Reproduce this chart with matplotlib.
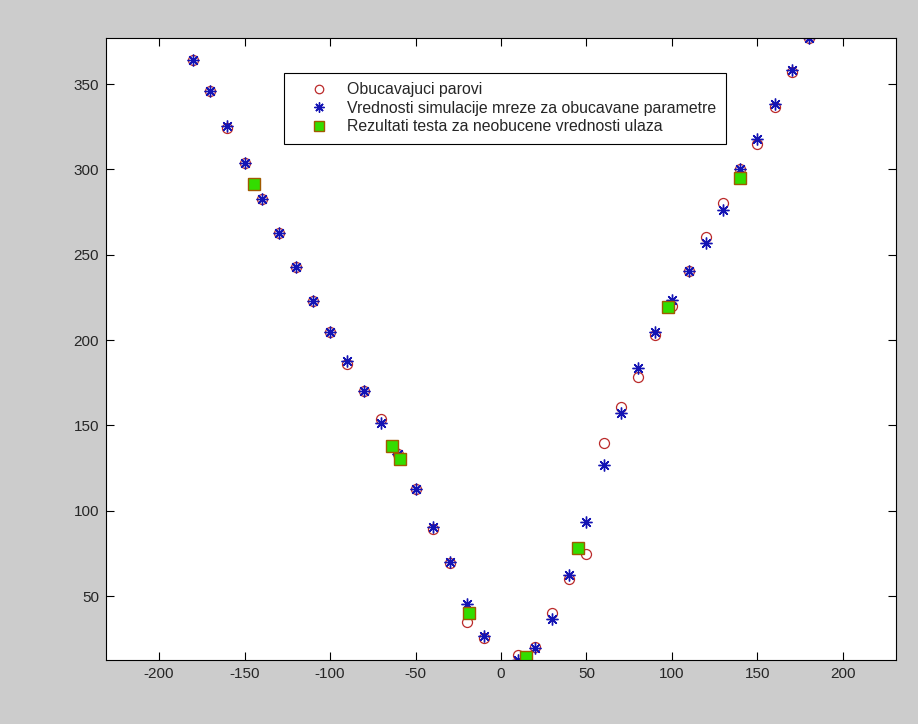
import matplotlib
matplotlib.use('Agg')
import matplotlib.pyplot as plt

plt.rcParams['font.family'] = ['Liberation Sans', 'DejaVu Sans']
plt.rcParams['axes.unicode_minus'] = False

# Training pairs (input, target)
train_x = [-180, -170, -160, -150, -140, -130, -120, -110, -100, -90, -80, -70, -60, -50,
           -40, -30, -20, -10, 10, 20, 30, 40, 50, 60, 70, 80, 90, 100, 110, 120, 130,
           140, 150, 160, 170, 180]
train_y = [364, 346, 324, 304, 282.5, 262.6, 242.7, 223.1, 204.9, 185.8, 170.3, 153.6, 133.5, 112.5,
           89.1, 69.5, 35, 25.2, 15.4, 20.3, 40.2, 59.8, 74.6, 139.5, 160.6, 178.2, 203, 220, 240.7,
           260.3, 280.2, 300.1, 315, 336.8, 356.8, 376.9]

# Network output on the training inputs
sim_y = [364, 346, 325.5, 304, 282.5, 262.6, 242.7, 223.1, 205, 187.7, 170.3, 151.6, 133, 112.5,
         90.6, 70.1, 45.3, 26.6, 12.5, 19.3, 36.3, 62.3, 93.6, 126.8, 157, 183.8, 205, 223.5, 240.7,
         257, 276.3, 300, 317.7, 338.4, 358.3, 376.9]

# Network output on unseen inputs
test_x = [-144.7, -63.8, -58.8, -18.6, 14.8, 44.8, 97.6, 139.6]
test_y = [291.3, 138.1, 130.1, 39.8, 14, 78, 219.6, 294.8]

fig = plt.figure(figsize=(9.18, 7.24), dpi=100, facecolor='#cccccc')
ax = fig.add_axes([106 / 918, 64 / 724, 790 / 918, 622 / 724])

ax.plot(train_x, train_y, 'o', markersize=7.2, markerfacecolor='none',
        markeredgecolor='#bb2a2a', markeredgewidth=0.9, label='Obucavajuci parovi')
ax.plot(train_x, sim_y, linestyle='none', marker=(8, 2, 0), markersize=8.5,
        color='#1414b4', markeredgewidth=1.0,
        label='Vrednosti simulacije mreze za obucavane parametre')
ax.plot(test_x, test_y, 's', markersize=8, markerfacecolor='#33dd00',
        markeredgecolor='#a05a00', markeredgewidth=1.0,
        label='Rezultati testa za neobucene vrednosti ulaza')

ax.set_xlim(-231, 231)
ax.set_ylim(12.5, 377)
ax.set_xticks([-200, -150, -100, -50, 0, 50, 100, 150, 200])
ax.set_yticks([50, 100, 150, 200, 250, 300, 350])
ax.tick_params(direction='in', length=6, top=True, right=True, labelsize=11,
               colors='black', labelcolor='#262626', pad=5)

leg = ax.legend(loc='upper left', bbox_to_anchor=(0.225, 0.944), fontsize=11.4,
                fancybox=False, edgecolor='black', framealpha=1, borderpad=0.6,
                labelspacing=0.22, handlelength=3.3, handletextpad=0.1,
                borderaxespad=0, markerscale=0.85)
leg.get_frame().set_linewidth(0.8)
for t in leg.get_texts():
    t.set_color('#262626')

fig.savefig('out.png', dpi=100, facecolor=fig.get_facecolor())
